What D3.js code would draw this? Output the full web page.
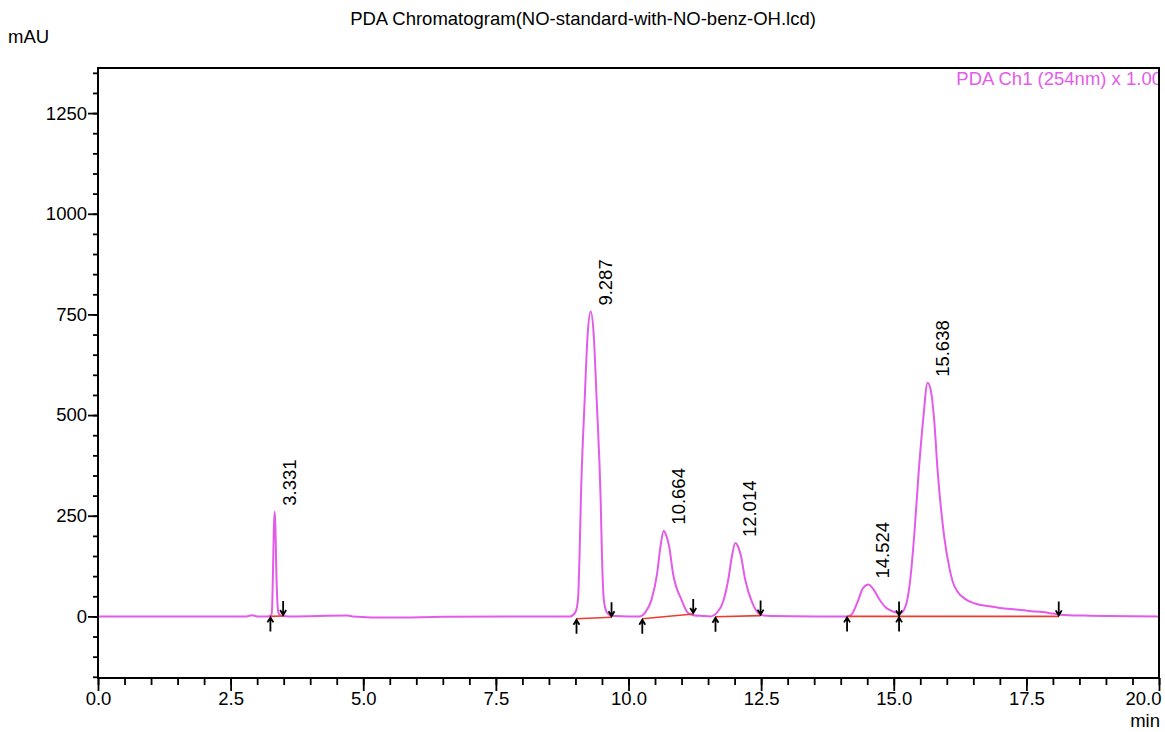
<!DOCTYPE html>
<html>
<head>
<meta charset="utf-8">
<script src="https://cdn.jsdelivr.net/npm/d3@7"></script>
<style>
body { margin: 0; background: #fff; }
text { font-family: "Liberation Sans", Arial, sans-serif; fill: #000; }
</style>
</head>
<body>
<script>
// Trace (retention time in min, signal in mAU)
const traceTime = [0.0, 1.0, 2.0, 2.8, 2.9, 3.0, 3.2, 3.27, 3.285, 3.30, 3.315, 3.331, 3.345, 3.36, 3.38, 3.40, 3.43, 3.49, 3.6,
  4.7, 4.8, 5.5, 6.5, 8.0, 8.90, 8.997, 9.047, 9.077, 9.102, 9.174, 9.23, 9.287, 9.344, 9.40, 9.475, 9.50, 9.535, 9.59, 9.65, 9.75,
  10.0, 10.2, 10.31, 10.433, 10.539, 10.603, 10.664, 10.70, 10.766, 10.84, 11.0, 11.12, 11.22, 11.4,
  11.55, 11.66, 11.78, 11.88, 11.95, 12.014, 12.06, 12.12, 12.20, 12.33, 12.45, 12.55, 12.7, 13.5,
  14.12, 14.2, 14.33, 14.42, 14.524, 14.6, 14.74, 14.85, 14.99, 15.10, 15.15, 15.2, 15.241, 15.304, 15.385, 15.473, 15.554,
  15.638, 15.70, 15.762, 15.826, 15.95, 16.05, 16.12, 16.2, 16.35, 16.53, 16.8, 17.0, 17.3, 17.6, 17.8, 18.0, 18.11, 18.3,
  18.6, 19.0, 20.0];
const traceMAU = [0, 0, 0, 0, 3, 0, 0, 3, 30, 120, 220, 260, 220, 120, 40, 10, 3, 1, 0,
  2, 0, -3, -1, 0, 0, 10, 41, 150, 290, 538, 700, 757, 700, 538, 290, 150, 41, 10, 3, 1,
  0, 0, 9, 41, 106, 174, 213, 205, 174, 106, 41, 9, 3, 1,
  0, 8, 35, 91, 150, 182, 175, 150, 91, 35, 8, 2, 1, 0,
  0, 4, 40, 70, 79, 70, 40, 22, 12, 8, 9, 18, 33, 83, 199, 364, 488,
  580, 560, 488, 364, 199, 120, 83, 62, 43, 32, 25, 21, 17, 13, 11, 7, 5, 3,
  2, 1, 0];

// Peak tops and labels
const peakRT = [3.331, 9.287, 10.664, 12.014, 14.524, 15.638];
const peakTop = [260, 757, 213, 182, 79, 580];
const peakLabels = ["3.331", "9.287", "10.664", "12.014", "14.524", "15.638"];

// Integration start / end marks and their baseline levels
const integStart = [3.25, 9.02, 10.26, 11.64, 14.12, 15.10];
const integEnd = [3.49, 9.68, 11.22, 12.49, 15.10, 18.11];
const baseStart = [0, -6, -6, -1, 0, 0];
const baseEnd = [1, -2, 6, 2, 0, 0];

// Axis ticks
const xMajor = [0, 2.5, 5, 7.5, 10, 12.5, 15, 17.5, 20];
const xMinor = d3.range(0, 20.001, 0.5);
const yMajor = [0, 250, 500, 750, 1000, 1250];
const yMinor = d3.range(-150, 1351, 50);

const traceColor = "#e35ce9";
const fontSize = "18.5px";

var margin = {top: 68, right: 6, bottom: 54, left: 98};
var width = 1165 - margin.left - margin.right;
var height = 732 - margin.top - margin.bottom;

var svg = d3.select("body").append("svg")
    .attr("width", 1165)
    .attr("height", 732);

var chart = svg.append("g")
    .attr("transform", `translate(${margin.left},${margin.top})`);

var x = d3.scaleLinear().domain([0, 20]).range([0, width]);
var y = d3.scaleLinear().domain([-153, 1362]).range([height, 0]);

chart.append("clipPath")
    .attr("id", "plotclip")
  .append("rect")
    .attr("width", width)
    .attr("height", height);

// Title and unit labels
svg.append("text")
    .attr("x", 583)
    .attr("y", 25)
    .attr("text-anchor", "middle")
    .style("font-size", fontSize)
    .text("PDA Chromatogram(NO-standard-with-NO-benz-OH.lcd)");

svg.append("text")
    .attr("x", 8)
    .attr("y", 43)
    .style("font-size", fontSize)
    .text("mAU");

svg.append("text")
    .attr("x", 1160)
    .attr("y", 727)
    .attr("text-anchor", "end")
    .style("font-size", fontSize)
    .text("min");

// Minor ticks
chart.append("g")
    .attr("class", "minor")
    .attr("transform", `translate(0,${height})`)
    .call(d3.axisBottom(x).tickValues(xMinor).tickSize(7).tickFormat(""));

chart.append("g")
    .attr("class", "minor")
    .call(d3.axisLeft(y).tickValues(yMinor).tickSize(5).tickFormat(""));

// Major ticks with labels
var xAxisG = chart.append("g")
    .attr("class", "major")
    .attr("transform", `translate(0,${height})`)
    .call(d3.axisBottom(x).tickValues(xMajor).tickSize(13).tickPadding(1).tickFormat(d3.format(".1f")));

chart.append("g")
    .attr("class", "major")
    .call(d3.axisLeft(y).tickValues(yMajor).tickSize(10).tickPadding(1).tickFormat(d3.format("d")));

chart.selectAll(".minor .domain, .major .domain").remove();
chart.selectAll(".minor line, .major line")
    .attr("stroke", "#000")
    .attr("stroke-width", 1.8);
chart.selectAll(".major text")
    .style("font-size", fontSize)
    .attr("fill", "#000");

// last x label sits flush against the right edge
xAxisG.selectAll(".tick text")
    .filter(d => d === 20)
    .attr("text-anchor", "end")
    .attr("x", 2);

var plot = chart.append("g")
    .attr("clip-path", "url(#plotclip)");

// Chromatogram trace
var traceData = traceTime.map((t, i) => ({t: t, v: traceMAU[i]}));
plot.append("path")
    .datum(traceData)
    .attr("fill", "none")
    .attr("stroke", traceColor)
    .attr("stroke-width", 2)
    .attr("d", d3.line()
        .curve(d3.curveMonotoneX)
        .x(d => x(d.t))
        .y(d => y(d.v)));

// Integration baselines
plot.selectAll(".baseline").data(integStart)
  .enter().append("line")
    .attr("class", "baseline")
    .attr("x1", d => x(d))
    .attr("y1", (d, i) => y(baseStart[i]))
    .attr("x2", (d, i) => x(integEnd[i]))
    .attr("y2", (d, i) => y(baseEnd[i]))
    .attr("stroke", "#f03a2e")
    .attr("stroke-width", 1.6);

// Start arrows (below, pointing up) and end arrows (above, pointing down)
function upArrow(px, py) {
    return `M${px},${py + 15}L${px},${py + 1}M${px - 3},${py + 6}L${px},${py + 1}L${px + 3},${py + 6}`;
}
function downArrow(px, py) {
    return `M${px},${py - 15}L${px},${py - 1}M${px - 3},${py - 6}L${px},${py - 1}L${px + 3},${py - 6}`;
}

plot.selectAll(".startMark").data(integStart)
  .enter().append("path")
    .attr("class", "startMark")
    .attr("d", (d, i) => upArrow(x(d), y(baseStart[i])))
    .attr("fill", "none")
    .attr("stroke", "#000")
    .attr("stroke-width", 1.8);

plot.selectAll(".endMark").data(integEnd)
  .enter().append("path")
    .attr("class", "endMark")
    .attr("d", (d, i) => downArrow(x(d), y(baseEnd[i])))
    .attr("fill", "none")
    .attr("stroke", "#000")
    .attr("stroke-width", 1.8);

// Retention time labels
chart.selectAll(".rt").data(peakRT)
  .enter().append("text")
    .attr("class", "rt")
    .attr("transform", (d, i) => `translate(${x(d) + 21},${y(peakTop[i]) - 6}) rotate(-90)`)
    .style("font-size", fontSize)
    .text((d, i) => peakLabels[i]);

// Channel legend
plot.append("text")
    .attr("x", width + 3)
    .attr("y", 17)
    .attr("text-anchor", "end")
    .style("fill", traceColor)
    .style("font-size", fontSize)
    .text("PDA Ch1 (254nm) x 1.00");

// Frame
chart.append("rect")
    .attr("width", width)
    .attr("height", height)
    .attr("fill", "none")
    .attr("stroke", "#000")
    .attr("stroke-width", 2);
</script>
</body>
</html>
